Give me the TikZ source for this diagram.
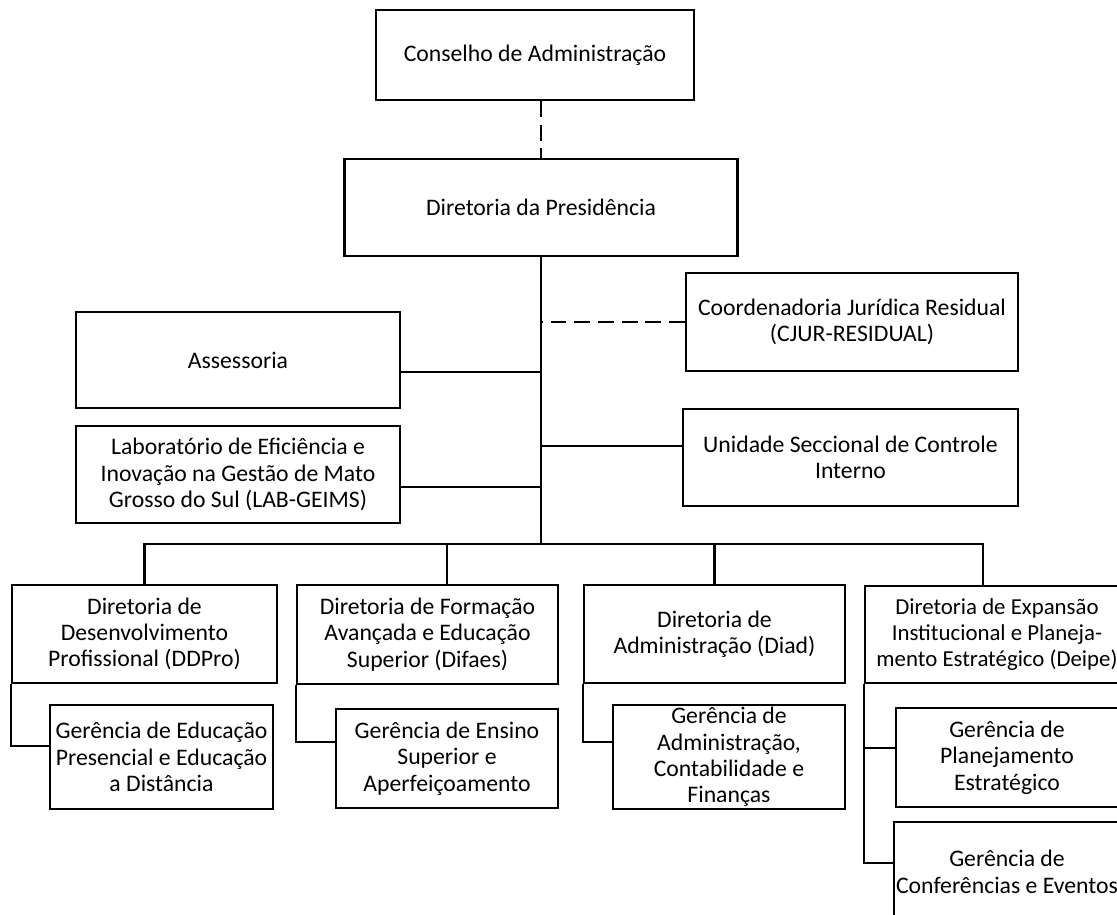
\documentclass[tikz,border=0pt]{standalone}
\usepackage{fontspec}
\setmainfont{Carlito}
\tikzset{
  box/.style={draw, line width=1.2pt, align=center, inner sep=1pt,
    font=\fontsize{13.5}{15}\selectfont},
  conn/.style={line width=1.2pt},
  dashline/.style={line width=1.2pt, dash pattern=on 9pt off 4.5pt},
}
\begin{document}
\begin{tikzpicture}[x=0.02cm,y=-0.02cm]
\useasboundingbox (0,0) rectangle (1117,914);
\fill[white] (0,0) rectangle (1117,914);
\clip (0,0) rectangle (1117,914);

% top
\node[box, minimum width=6.36cm, minimum height=1.8cm] (cons) at (535,55) {Conselho de Administração};
\node[box, minimum width=7.86cm, minimum height=1.94cm] (pres) at (541,207.5) {Diretoria da Presidência};

% staff units
\node[box, minimum width=6.64cm, minimum height=1.96cm] (cjur) at (852,322) {Coordenadoria Jurídica Residual\\(CJUR-RESIDUAL)};
\node[box, minimum width=6.48cm, minimum height=1.92cm] (asse) at (238,360) {Assessoria};
\node[box, minimum width=6.7cm, minimum height=1.94cm] (unid) at (850.5,457.5) {Unidade Seccional de Controle\\Interno};
\node[box, minimum width=6.48cm, minimum height=1.94cm] (lab) at (238,474.5) {Laboratório de Eficiência e\\Inovação na Gestão de Mato\\Grosso do Sul (LAB-GEIMS)};

% directorates
\node[box, minimum width=5.3cm, minimum height=1.96cm] (ddpro) at (144.5,634) {Diretoria de\\Desenvolvimento\\Profissional (DDPro)};
\node[box, minimum width=5.22cm, minimum height=1.98cm] (difaes) at (427.5,634.5) {Diretoria de Formação\\Avançada e Educação\\Superior (Difaes)};
\node[box, minimum width=5.22cm, minimum height=1.96cm] (diad) at (714.5,634) {Diretoria de\\Administração (Diad)};
\node[box, minimum width=5.28cm, minimum height=1.94cm, font=\fontsize{13}{15}\selectfont] (deipe) at (997,634.5) {Diretoria de Expansão\\Institucional e Planeja-\\mento Estratégico (Deipe)};

% managements
\node[box, minimum width=4.46cm, minimum height=2.08cm] (gedu) at (161.5,757) {Gerência de Educação\\Presencial e Educação\\a Distância};
\node[box, minimum width=4.44cm, minimum height=1.98cm] (gens) at (447,758.5) {Gerência de Ensino\\Superior e\\Aperfeiçoamento};
\node[box, minimum width=4.64cm, minimum height=2.08cm] (gadm) at (729,757) {Gerência de\\Administração,\\Contabilidade e\\Finanças};
\node[box, minimum width=4.44cm, minimum height=1.98cm] (gplan) at (1007,757.5) {Gerência de\\Planejamento\\Estratégico};
\node[box, minimum width=4.44cm, minimum height=2cm] (gconf) at (1007,872) {Gerência de\\Conferências e Eventos};

% trunk
\coordinate (bus) at (541,544);
\draw[dashline] (cons.south -| pres.north) -- (pres.north);
\draw[conn] (pres.south) -- (bus);
\draw[dashline] (cjur.west) -- (cjur.west -| bus);
\draw[conn] ([yshift=-0.24cm]asse.east) -- ([yshift=-0.24cm]asse.east -| bus);
\draw[conn] ([yshift=-0.25cm]lab.east) -- ([yshift=-0.25cm]lab.east -| bus);
\draw[conn] ([yshift=0.23cm]unid.west) -- ([yshift=0.23cm]unid.west -| bus);

% bus to directorates
\coordinate (s2) at ([xshift=0.39cm]difaes.north);
\coordinate (s4) at ([xshift=-0.28cm]deipe.north);
\draw[conn] (ddpro.north) |- (s4 |- bus) -- (s4);
\draw[conn] (s2) -- (s2 |- bus);
\draw[conn] (diad.north) -- (diad.north |- bus);

% directorates to managements
\draw[conn] (ddpro.south west) |- ([yshift=0.22cm]gedu.west);
\draw[conn] (difaes.south west) |- ([yshift=0.33cm]gens.west);
\draw[conn] (diad.south west) |- ([yshift=0.3cm]gadm.west);
\draw[conn] (deipe.south west) |- ([yshift=0.18cm]gconf.west);
\draw[conn] ([yshift=0.19cm]gplan.west) -- ([yshift=0.19cm]gplan.west -| deipe.south west);
\end{tikzpicture}
\end{document}
